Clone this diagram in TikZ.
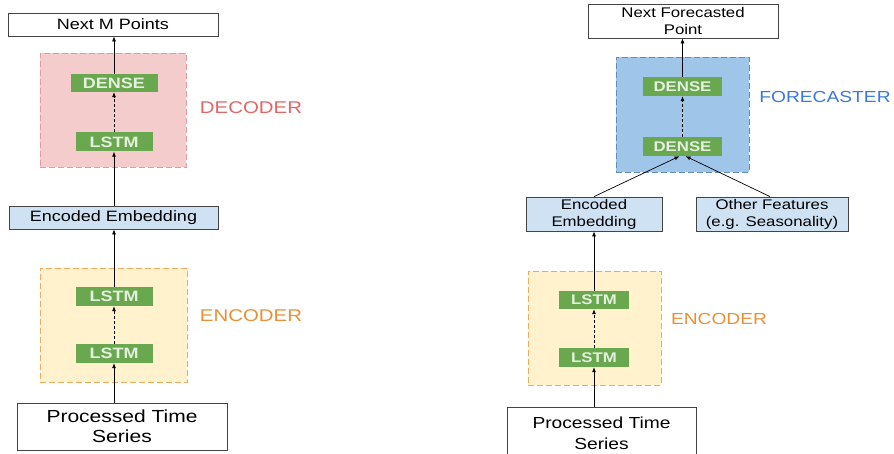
\documentclass[tikz,border=0pt]{standalone}
\usepackage{fontspec}
\setmainfont{Liberation Sans}[FakeStretch=1.2]
\usetikzlibrary{arrows.meta}
\definecolor{decfill}{HTML}{F4CCCC}
\definecolor{decline}{HTML}{E39B9B}
\definecolor{dectext}{HTML}{E06666}
\definecolor{encfill}{HTML}{FFF2CC}
\definecolor{encline}{HTML}{F0AA62}
\definecolor{enctext}{HTML}{E69138}
\definecolor{fcfill}{HTML}{9FC5E8}
\definecolor{fcline}{HTML}{5F8DBA}
\definecolor{fctext}{HTML}{3C78D8}
\definecolor{layergreen}{HTML}{6AA84F}
\definecolor{layertext}{HTML}{E4EFDD}
\definecolor{embfill}{HTML}{CFE2F3}
\definecolor{boxline}{HTML}{444444}

\begin{document}
\begin{tikzpicture}[x=1pt,y=-1pt,
    plainbox/.style={draw=boxline,line width=0.8pt,fill=white,inner sep=0pt,align=center},
    embbox/.style={plainbox,fill=embfill},
    layer/.style={fill=layergreen,text=layertext,inner sep=0pt,font=\bfseries\fontsize{15}{17}\selectfont},
    group/.style={line width=0.8pt,dash pattern=on 6pt off 3pt},
    grouplabel/.style={font=\fontsize{17}{20}\selectfont},
    arr/.style={-{Latex[length=5pt,width=4pt]},line width=0.7pt},
    darr/.style={arr,dash pattern=on 3pt off 2pt}]
\useasboundingbox (0,0) rectangle (894,454);

% left: encoder / decoder
\node[plainbox,minimum width=210,minimum height=23,font=\fontsize{15}{18}\selectfont] (nextpts) at (113,24.5) {Next M Points};
\node[group,draw=decline,fill=decfill,minimum width=146,minimum height=114] (dec) at (113,110) {};
\node[layer,minimum width=87,minimum height=18] (ldense) at (114,83) {DENSE};
\node[layer,minimum width=77,minimum height=19] (ldlstm) at (114,142) {LSTM};
\node[grouplabel,text=dectext] (declabel) at (251,108) {DECODER};
\node[embbox,minimum width=209,minimum height=23,font=\fontsize{15}{18}\selectfont] (lemb) at (113.5,217.5) {Encoded Embedding};
\node[group,draw=encline,fill=encfill,minimum width=147,minimum height=114] (lenc) at (113.5,325) {};
\node[layer,minimum width=77,minimum height=19] (lelstm2) at (114,296.5) {LSTM};
\node[layer,minimum width=77,minimum height=19] (lelstm1) at (114,353.5) {LSTM};
\node[grouplabel,text=enctext] (lenclabel) at (251,316) {ENCODER};
\node[plainbox,minimum width=210,minimum height=47,font=\fontsize{17.5}{20}\selectfont] (lproc) at (122,426.5) {Processed Time\\Series};

\draw[arr] (lproc.north -| lelstm1) -- (lelstm1);
\draw[darr] (lelstm1) -- (lelstm2);
\draw[arr] (lelstm2) -- (lemb.south -| lelstm2);
\draw[arr] (lemb.north -| ldlstm) -- (ldlstm);
\draw[darr] (ldlstm) -- (ldense);
\draw[arr] (ldense) -- (nextpts.south -| ldense);

% right: encoder / forecaster
\node[plainbox,minimum width=190,minimum height=34,font=\fontsize{14}{17}\selectfont] (nextfc) at (683,21) {Next Forecasted\\Point};
\node[group,draw=fcline,fill=fcfill,minimum width=133,minimum height=115] (fc) at (682.5,114.5) {};
\node[layer,minimum width=79,minimum height=19,font=\bfseries\fontsize{14}{16}\selectfont] (rdense2) at (682.5,86.5) {DENSE};
\node[layer,minimum width=79,minimum height=19,font=\bfseries\fontsize{14}{16}\selectfont] (rdense1) at (682.5,146.5) {DENSE};
\node[grouplabel,text=fctext,font=\fontsize{16}{19}\selectfont] (fclabel) at (825,97) {FORECASTER};
\node[embbox,minimum width=136,minimum height=34,font=\fontsize{14}{17}\selectfont] (remb) at (594,214) {Encoded\\Embedding};
\node[embbox,minimum width=152,minimum height=34,font=\fontsize{14}{17}\selectfont] (other) at (772,214) {Other Features\\(e.g. Seasonality)};
\node[group,draw=encline,fill=encfill,minimum width=133,minimum height=114] (renc) at (594.5,328) {};
\node[layer,minimum width=70,minimum height=18,font=\bfseries\fontsize{14}{16}\selectfont] (rlstm2) at (594,300) {LSTM};
\node[layer,minimum width=70,minimum height=19,font=\bfseries\fontsize{14}{16}\selectfont] (rlstm1) at (594,357.5) {LSTM};
\node[grouplabel,text=enctext,font=\fontsize{16}{19}\selectfont] (renclabel) at (719,319) {ENCODER};
\node[plainbox,minimum width=189,minimum height=52,font=\fontsize{16}{21}\selectfont] (rproc) at (601.5,433) {Processed Time\\Series};

\draw[arr] (rproc.north -| rlstm1) -- (rlstm1);
\draw[darr] (rlstm1) -- (rlstm2);
\draw[arr] (rlstm2) -- (remb.south -| rlstm2);
\draw[arr] (remb.north) -- ([xshift=-3pt]rdense1.south);
\draw[arr] ([xshift=-2pt]other.north) -- ([xshift=3pt]rdense1.south);
\draw[darr] (rdense1) -- (rdense2);
\draw[arr] (rdense2) -- (nextfc.south -| rdense2);
\end{tikzpicture}
\end{document}
